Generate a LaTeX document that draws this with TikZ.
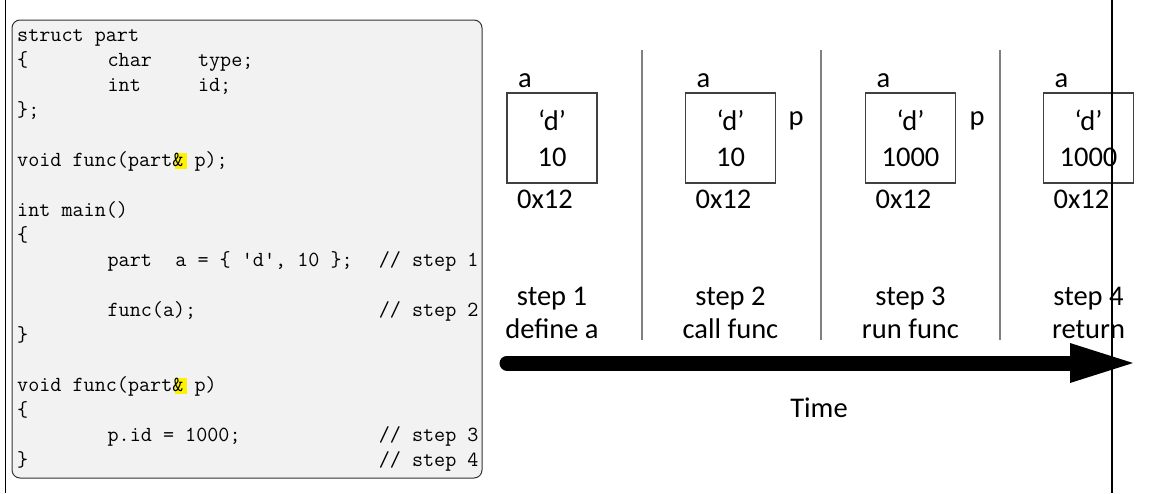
\documentclass[tikz,border=0pt]{standalone}
\usepackage{fontspec}
\newfontfamily\sfont{Carlito}
\begin{document}
\begin{tikzpicture}[x=1pt,y=-1pt,
  code/.style={anchor=base west, inner sep=0pt, font=\fontsize{21.52}{25}\selectfont\ttfamily},
  mem/.style={draw=black!75, line width=1.3pt, minimum width=90pt, minimum height=90pt, inner sep=0pt},
  lab/.style={anchor=base, inner sep=0pt, font=\fontsize{28.5}{31}\selectfont\sfont},
  val/.style={anchor=base, inner sep=0pt, font=\fontsize{28.5}{31}\selectfont\sfont},
  divider/.style={draw=black!50, line width=2.5pt},
  hl/.style={fill=yellow}]
\useasboundingbox (0,0) rectangle (1151,493);
% code panel
\draw[fill=black!5, draw=black!80, line width=1pt, rounded corners=8pt] (12,20) rectangle (482,478);
\fill[hl] ({17+14*11.3},153) rectangle ({17+15*11.3},169);
\fill[hl] ({17+14*11.3},378) rectangle ({17+15*11.3},394);
\node[code] (c0) at (17,41) {struct part};
\node[code] (c1a) at (17,66) {\{};
\node[code] (c1b) at ({17+8*11.3},66) {char};
\node[code] (c1c) at ({17+16*11.3},66) {type;};
\node[code] (c2a) at ({17+8*11.3},91) {int};
\node[code] (c2b) at ({17+16*11.3},91) {id;};
\node[code] (c3) at (17,116) {\};};
\node[code] (c5) at (17,166) {void func(part\& p);};
\node[code] (c7) at (17,216) {int main()};
\node[code] (c8) at (17,241) {\{};
\node[code] (c9a) at ({17+8*11.3},266) {part};
\node[code] (c9b) at ({17+14*11.3},266) {a = \{ 'd', 10 \};};
\node[code] (c9c) at ({17+32*11.3},266) {// step 1};
\node[code] (c11a) at ({17+8*11.3},316) {func(a);};
\node[code] (c11b) at ({17+32*11.3},316) {// step 2};
\node[code] (c12) at (17,341) {\}};
\node[code] (c14) at (17,391) {void func(part\& p)};
\node[code] (c15) at (17,416) {\{};
\node[code] (c16a) at ({17+8*11.3},441) {p.id = 1000;};
\node[code] (c16b) at ({17+32*11.3},441) {// step 3};
\node[code] (c17a) at (17,466) {\}};
\node[code] (c17b) at ({17+32*11.3},466) {// step 4};
% dividers
\draw[divider] (642,50) -- (642,340);
\draw[divider] (821,50) -- (821,340);
\draw[divider] (1000,50) -- (1000,340);
% memory boxes
\foreach \i/\cx/\v/\sa/\sb in {1/552/10/step 1/define a, 2/730.5/10/step 2/call func, 3/910.5/1000/step 3/run func, 4/1088.5/1000/step 4/return}{
  \node[mem] (m\i) at (\cx,138) {};
  \node[val] (q\i) at (\cx,130) {‘d’};
  \node[val] (v\i) at (\cx,166) {\v};
  \node[lab] (a\i) at ({\cx-27},87) {a};
  \node[val] (ad\i) at ({\cx-7},208) {0x12};
  \node[lab] (s\i) at (\cx,305) {\sa};
  \node[lab] (d\i) at (\cx,338) {\sb};
}
\node[lab] (p2) at (796,125) {p};
\node[lab] (p3) at (977,125) {p};
% time arrow
\coordinate (t0) at (507,363);
\coordinate (t1) at (1072,363);
\coordinate (tip) at (1133,363);
\draw[line width=15pt, line cap=round] (t0) -- (t1);
\fill (1070,343) -- (tip) -- (1070,383) -- cycle;
\node[lab] (time) at (819,417) {Time};
% outer borders
\draw[line width=1.3pt] (5.5,0) -- (5.5,493);
\draw[line width=1.3pt] (1112,0) -- (1112,493);
\end{tikzpicture}
\end{document}
